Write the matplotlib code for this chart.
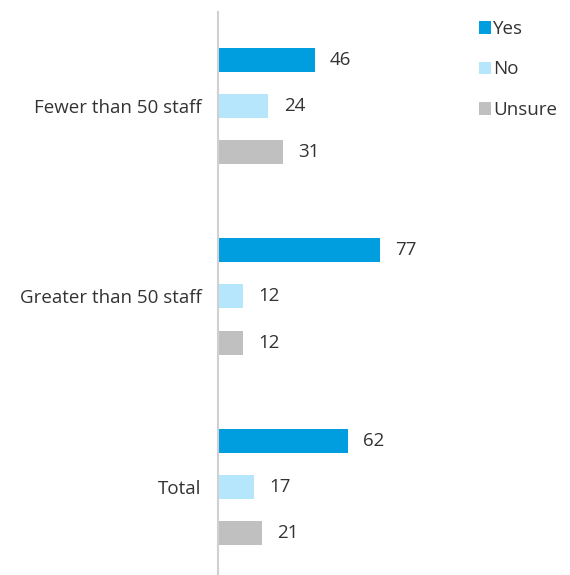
import matplotlib
matplotlib.use("Agg")
import matplotlib.pyplot as plt
from matplotlib.patches import Patch

categories = ["Fewer than 50 staff", "Greater than 50 staff", "Total"]
series_names = ["Yes", "No", "Unsure"]
yes_vals = [46, 77, 62]
no_vals = [24, 12, 17]
unsure_vals = [31, 12, 21]
colors = ["#009ddf", "#b5e6fb", "#c0c0c0"]

plt.rcParams['font.family'] = ['Open Sans', 'DejaVu Sans']
fig = plt.figure(figsize=(5.7, 5.75), dpi=100)
W, H = 570, 575
ax = fig.add_axes([218 / W, 0, (W - 218) / W, (H - 12) / H])

offsets = [-0.242, 0.0, 0.242]
bar_h = 0.126
text_color = "#333333"
fs = 13.5
for s, (vals, col, off) in enumerate(zip([yes_vals, no_vals, unsure_vals], colors, offsets)):
    ys = [i + off for i in range(len(categories))]
    bars = ax.barh(ys, vals, height=bar_h, color=col, edgecolor="none")
    for b, v in zip(bars, vals):
        ax.annotate(str(v), (b.get_width(), b.get_y() + b.get_height() / 2),
                    xytext=(11, 0), textcoords="offset points", va="center", ha="left",
                    fontsize=fs, color=text_color)

ax.set_xlim(0, (W - 218) / 2.1)
ax.set_ylim(2.462, -0.493)
ax.set_yticks(range(len(categories)))
ax.set_yticklabels(categories, fontsize=fs, color=text_color)
ax.tick_params(axis="y", length=0, pad=12)
ax.set_xticks([])
for sp in ["top", "right", "bottom"]:
    ax.spines[sp].set_visible(False)
ax.spines["left"].set_color("#d0d0d0")
ax.spines["left"].set_linewidth(1.5)

handles = [Patch(facecolor=c, edgecolor="none", label=n) for c, n in zip(colors, series_names)]
fig.legend(handles=handles, loc="upper left", bbox_to_anchor=(462 / W, 1 - 3 / H),
           frameon=False, fontsize=fs, handlelength=0.65, handleheight=0.65,
           handletextpad=0.1, labelspacing=1.2, labelcolor=text_color)

fig.savefig("out.png", dpi=100)
